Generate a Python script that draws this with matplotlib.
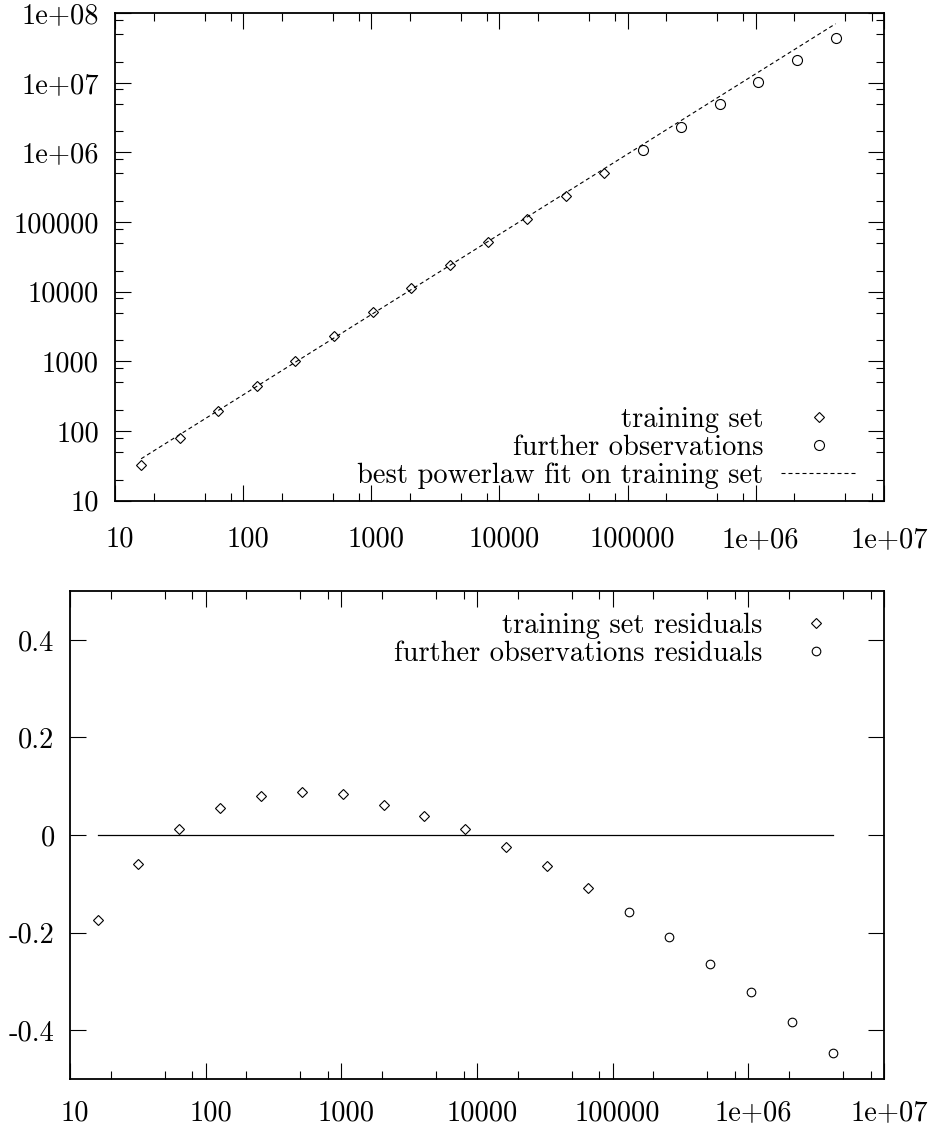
import matplotlib
matplotlib.use("Agg")
import matplotlib.pyplot as plt
from matplotlib.transforms import ScaledTranslation
from matplotlib.ticker import FixedLocator, NullFormatter

# data
train_x = [16, 32, 64, 128, 256, 512, 1024, 2048, 4096, 8192, 16384, 32768, 65536]
train_y = [32.7, 80.7, 195, 450, 1028, 2322, 5190, 11200, 24200, 52300,
           111000, 239000, 512000]
further_x = [131072, 262144, 524288, 1048576, 2097152, 4194304]
further_y = [1.08e6, 2.34e6, 4.9e6, 1.02e7, 2.1e7, 4.42e7]

fit_x = [16, 4194304]
fit_y = [40, 7.0e7]

train_res = [-0.175, -0.060, 0.012, 0.056, 0.080, 0.088, 0.084, 0.062,
             0.040, 0.012, -0.024, -0.064, -0.108]
further_res = [-0.157, -0.209, -0.264, -0.322, -0.383, -0.446]
zero_x = [16, 4194304]
zero_y = [0, 0]

x_ticks = [10, 100, 1000, 10000, 100000, 1e6, 1e7]
x_labels = ["10", "100", "1000", "10000", "100000", "1e+06", "1e+07"]
y_ticks = [10, 100, 1000, 10000, 100000, 1e6, 1e7, 1e8]
y_labels = ["10", "100", "1000", "10000", "100000", "1e+06", "1e+07", "1e+08"]
res_ticks = [-0.4, -0.2, 0, 0.2, 0.4]
res_labels = ["-0.4", "-0.2", "0", "0.2", "0.4"]

plt.rcParams.update({
    "font.family": "cmr10",
    "font.size": 20.5,
    "axes.formatter.use_mathtext": True,
    "axes.linewidth": 1.3,
})

fig = plt.figure(figsize=(9.34, 11.28), dpi=100)
ax1 = fig.add_axes([0.1231, 0.5561, 0.8233, 0.4324])
ax2 = fig.add_axes([0.0749, 0.0434, 0.8715, 0.4326])


def minor_log(lo, hi):
    out = []
    e = lo
    while e < hi:
        for m in (2, 5, 8):
            out.append(m * 10.0 ** e)
        e += 1
    return out


def style(ax, xpad, ypad):
    ax.tick_params(which="both", direction="in", top=True, right=True,
                   width=0.8, colors="black")
    ax.tick_params(which="major", length=11.5)
    ax.tick_params(which="minor", length=5.8)
    ax.tick_params(axis="x", which="major", pad=xpad)
    ax.tick_params(axis="y", which="major", pad=ypad)
    # gnuplot's latex labels sit a bit right of their ticks
    off = ScaledTranslation(5 / 100, 0, fig.dpi_scale_trans)
    for lab in ax.get_xticklabels():
        lab.set_transform(lab.get_transform() + off)


# --- top panel
ax1.set_xscale("log")
ax1.set_yscale("log")
ax1.set_xlim(10, 1e7)
ax1.set_ylim(10, 1e8)
ax1.plot(train_x, train_y, linestyle="none", marker="D", ms=5.4,
         mfc="none", mec="black", mew=0.8, label="training set")
ax1.plot(further_x, further_y, linestyle="none", marker="o", ms=7.2,
         mfc="none", mec="black", mew=0.8, label="further observations")
ax1.plot(fit_x, fit_y, color="black", lw=0.8, dashes=(3.6, 2.7),
         label="best powerlaw fit on training set")
ax1.set_xticks(x_ticks, x_labels)
ax1.set_yticks(y_ticks, y_labels)
ax1.xaxis.set_minor_locator(FixedLocator(minor_log(1, 7)))
ax1.yaxis.set_minor_locator(FixedLocator(minor_log(1, 8)))
ax1.xaxis.set_minor_formatter(NullFormatter())
ax1.yaxis.set_minor_formatter(NullFormatter())
style(ax1, 18.5, 11.5)
ax1.legend(loc="lower right", bbox_to_anchor=(0.9636, 0.024), frameon=False,
           markerfirst=False, borderpad=0, borderaxespad=0,
           handlelength=2.63, handletextpad=0.63, labelspacing=0.05)

# --- residuals panel
ax2.set_xscale("log")
ax2.set_xlim(10, 1e7)
ax2.set_ylim(-0.5, 0.5)
ax2.plot(train_x, train_res, linestyle="none", marker="D", ms=5.0,
         mfc="none", mec="black", mew=0.8, label="training set residuals")
ax2.plot(further_x, further_res, linestyle="none", marker="o", ms=6.2,
         mfc="none", mec="black", mew=0.8,
         label="further observations residuals")
ax2.plot(zero_x, zero_y, color="black", lw=0.9)
ax2.set_xticks(x_ticks, x_labels)
ax2.set_yticks(res_ticks, res_labels)
ax2.xaxis.set_minor_locator(FixedLocator(minor_log(1, 7)))
ax2.xaxis.set_minor_formatter(NullFormatter())
ax2.yaxis.set_minor_locator(FixedLocator([]))
style(ax2, 15, 11)
ax2.legend(loc="upper right", bbox_to_anchor=(0.958, 0.955), frameon=False,
           markerfirst=False, borderpad=0, borderaxespad=0,
           handlelength=2.34, handletextpad=0.72, labelspacing=0.05)

fig.savefig("out.png", dpi=100)
